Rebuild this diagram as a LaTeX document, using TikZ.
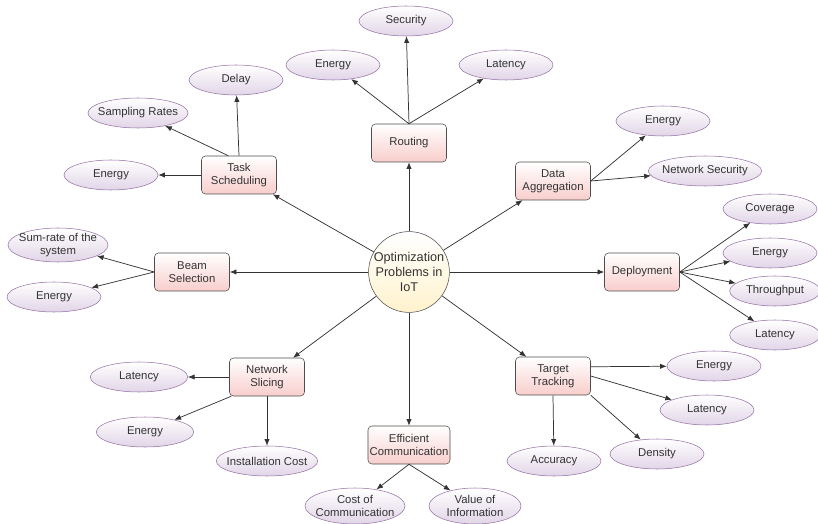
\documentclass[tikz,border=0pt]{standalone}
\usepackage{fontspec}
\setmainfont{Liberation Sans}
\usetikzlibrary{shapes.geometric,arrows.meta}
\definecolor{lineclr}{HTML}{333333}
\definecolor{rectline}{HTML}{4D4D4D}
\definecolor{rectfill}{HTML}{F8CECC}
\definecolor{leafline}{HTML}{9673A6}
\definecolor{leaffill}{HTML}{E1D5E7}
\definecolor{hubfill}{HTML}{FFF2CC}
\begin{document}
\begin{tikzpicture}[x=0.75pt,y=-0.75pt,
  lbl/.style={font=\fontsize{8.5}{10}\selectfont, text=black!80},
  hub/.style={circle, draw=rectline, top color=white, bottom color=hubfill,
    minimum size=60pt, inner sep=0pt, align=center, text=black!80,
    font=\fontsize{9.5}{11.5}\selectfont},
  topic/.style={lbl, draw=rectline, rounded corners=3pt, top color=white,
    bottom color=rectfill, minimum width=56.25pt, minimum height=28.5pt,
    inner sep=1pt, align=center},
  leaf/.style={lbl, ellipse, draw=leafline, top color=white, bottom color=leaffill,
    minimum width=70.5pt, minimum height=22.5pt, inner xsep=-12pt, inner ysep=-3pt,
    align=center},
  link/.style={draw=lineclr, line width=0.55pt, -{Latex[length=5pt,width=4pt]}}]

\useasboundingbox (0,0) rectangle (818,524);

% central problem
\node[hub] (c) at (409,272) {Optimization\\Problems in\\IoT};

% problem areas
\node[topic] (rt)  at (409,143) {Routing};
\node[topic] (ts)  at (239,175) {Task\\Scheduling};
\node[topic] (da)  at (553,181) {Data\\Aggregation};
\node[topic] (dp)  at (642,272) {Deployment};
\node[topic] (bs)  at (192,272) {Beam\\Selection};
\node[topic] (nsl) at (267,377) {Network\\Slicing};
\node[topic, minimum width=61.5pt] (ec) at (409,445) {Efficient\\Communication};
\node[topic] (tt)  at (553,376) {Target\\Tracking};

% objectives: routing
\node[leaf] (sec)  at (406,21)  {Security};
\node[leaf] (en1)  at (333,65)  {Energy};
\node[leaf] (lat1) at (506,65)  {Latency};
% task scheduling
\node[leaf] (dl)   at (236,80)  {Delay};
\node[leaf, minimum width=75pt] (sr) at (138,113) {Sampling Rates};
\node[leaf] (en2)  at (111,175) {Energy};
% data aggregation
\node[leaf] (en3)  at (663,121) {Energy};
\node[leaf, minimum width=85pt] (nsec) at (705,171) {Network Security};
% deployment
\node[leaf] (cov)  at (770,209) {Coverage};
\node[leaf] (en4)  at (770,253) {Energy};
\node[leaf, minimum width=68pt] (thr)  at (775,291) {Throughput};
\node[leaf, minimum width=68pt] (lat2) at (775,335) {Latency};
% beam selection
\node[leaf, minimum width=75pt, minimum height=25.5pt] (sum) at (58,245) {Sum-rate of the\\system};
\node[leaf] (en5)  at (54,297)  {Energy};
% network slicing
\node[leaf, minimum width=73pt] (lat3) at (139,377) {Latency};
\node[leaf, minimum width=73pt] (en6)  at (145,432) {Energy};
\node[leaf, minimum width=76pt] (ic)   at (267,461) {Installation Cost};
% efficient communication
\node[leaf, minimum width=75pt, minimum height=27pt] (coc) at (355,506) {Cost of\\Communication};
\node[leaf, minimum width=69pt, minimum height=27pt] (voi) at (475,506) {Value of\\Information};
% target tracking
\node[leaf] (en7)  at (714,366) {Energy};
\node[leaf] (lat4) at (707,410) {Latency};
\node[leaf] (den)  at (657,454) {Density};
\node[leaf] (acc)  at (554,461) {Accuracy};

% hub to problem areas
\foreach \t in {rt,ts,da,dp,bs,nsl,ec,tt}
  \draw[link] (c) -- (\t);

% problem areas to objectives
\draw[link] (rt.north) -- (sec);
\draw[link] (rt.north) -- (en1);
\draw[link] (rt.north) -- (lat1);
\draw[link] (ts.north) -- (dl);
\draw[link] ([xshift=-8pt]ts.north) -- (sr);
\draw[link] (ts.west) -- (en2);
\draw[link] (da.east) -- (en3);
\draw[link] (da.east) -- (nsec);
\draw[link] (dp.east) -- (cov);
\draw[link] (dp.east) -- (en4);
\draw[link] (dp.east) -- (thr);
\draw[link] (dp.east) -- (lat2);
\draw[link] (bs.west) -- (sum);
\draw[link] (bs.west) -- (en5);
\draw[link] (nsl.west) -- (lat3);
\draw[link] ([xshift=1.5pt]nsl.south west) -- (en6);
\draw[link] (nsl.south) -- (ic);
\draw[link] (ec.south) -- (coc);
\draw[link] (ec.south) -- (voi);
\draw[link] ([yshift=-7.5pt]tt.north east) -- (en7);
\draw[link] (tt.east) -- (lat4);
\draw[link] (tt.south east) -- (den);
\draw[link] (tt.south) -- (acc);
\end{tikzpicture}
\end{document}
